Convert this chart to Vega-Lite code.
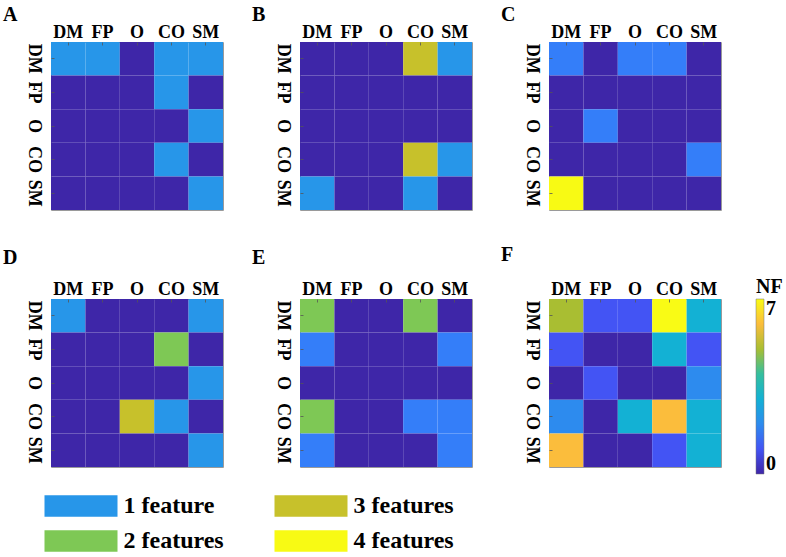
{
  "$schema": "https://vega.github.io/schema/vega-lite/v6.json",
  "background": "white",
  "padding": {"left": 2, "top": 4, "right": 0, "bottom": 0},
  "config": {
    "view": {"stroke": "#9a9a9a", "strokeWidth": 1},
    "font": "Liberation Serif",
    "axis": {"labelFont": "Liberation Serif", "labelFontSize": 18, "labelFontWeight": "bold", "labelColor": "black", "domain": false, "ticks": true, "tickSize": -3, "tickColor": "#555", "tickWidth": 0.8, "grid": false, "title": null, "labelOverlap": false, "bandPosition": 0.5},
    "title": {"font": "Liberation Serif", "fontSize": 20, "fontWeight": "bold", "color": "black", "anchor": "start", "frame": "group", "dx": -48}
  },
  "datasets": {
    "m": [
      {"panel":"A","row":"DM","col":"DM","nf":1},{"panel":"A","row":"DM","col":"FP","nf":1},{"panel":"A","row":"DM","col":"O","nf":0},{"panel":"A","row":"DM","col":"CO","nf":1},{"panel":"A","row":"DM","col":"SM","nf":1},
      {"panel":"A","row":"FP","col":"DM","nf":0},{"panel":"A","row":"FP","col":"FP","nf":0},{"panel":"A","row":"FP","col":"O","nf":0},{"panel":"A","row":"FP","col":"CO","nf":1},{"panel":"A","row":"FP","col":"SM","nf":0},
      {"panel":"A","row":"O","col":"DM","nf":0},{"panel":"A","row":"O","col":"FP","nf":0},{"panel":"A","row":"O","col":"O","nf":0},{"panel":"A","row":"O","col":"CO","nf":0},{"panel":"A","row":"O","col":"SM","nf":1},
      {"panel":"A","row":"CO","col":"DM","nf":0},{"panel":"A","row":"CO","col":"FP","nf":0},{"panel":"A","row":"CO","col":"O","nf":0},{"panel":"A","row":"CO","col":"CO","nf":1},{"panel":"A","row":"CO","col":"SM","nf":0},
      {"panel":"A","row":"SM","col":"DM","nf":0},{"panel":"A","row":"SM","col":"FP","nf":0},{"panel":"A","row":"SM","col":"O","nf":0},{"panel":"A","row":"SM","col":"CO","nf":0},{"panel":"A","row":"SM","col":"SM","nf":1},

      {"panel":"B","row":"DM","col":"DM","nf":0},{"panel":"B","row":"DM","col":"FP","nf":0},{"panel":"B","row":"DM","col":"O","nf":0},{"panel":"B","row":"DM","col":"CO","nf":3},{"panel":"B","row":"DM","col":"SM","nf":1},
      {"panel":"B","row":"FP","col":"DM","nf":0},{"panel":"B","row":"FP","col":"FP","nf":0},{"panel":"B","row":"FP","col":"O","nf":0},{"panel":"B","row":"FP","col":"CO","nf":0},{"panel":"B","row":"FP","col":"SM","nf":0},
      {"panel":"B","row":"O","col":"DM","nf":0},{"panel":"B","row":"O","col":"FP","nf":0},{"panel":"B","row":"O","col":"O","nf":0},{"panel":"B","row":"O","col":"CO","nf":0},{"panel":"B","row":"O","col":"SM","nf":0},
      {"panel":"B","row":"CO","col":"DM","nf":0},{"panel":"B","row":"CO","col":"FP","nf":0},{"panel":"B","row":"CO","col":"O","nf":0},{"panel":"B","row":"CO","col":"CO","nf":3},{"panel":"B","row":"CO","col":"SM","nf":1},
      {"panel":"B","row":"SM","col":"DM","nf":1},{"panel":"B","row":"SM","col":"FP","nf":0},{"panel":"B","row":"SM","col":"O","nf":0},{"panel":"B","row":"SM","col":"CO","nf":1},{"panel":"B","row":"SM","col":"SM","nf":0},

      {"panel":"C","row":"DM","col":"DM","nf":1},{"panel":"C","row":"DM","col":"FP","nf":0},{"panel":"C","row":"DM","col":"O","nf":1},{"panel":"C","row":"DM","col":"CO","nf":1},{"panel":"C","row":"DM","col":"SM","nf":0},
      {"panel":"C","row":"FP","col":"DM","nf":0},{"panel":"C","row":"FP","col":"FP","nf":0},{"panel":"C","row":"FP","col":"O","nf":0},{"panel":"C","row":"FP","col":"CO","nf":0},{"panel":"C","row":"FP","col":"SM","nf":0},
      {"panel":"C","row":"O","col":"DM","nf":0},{"panel":"C","row":"O","col":"FP","nf":1},{"panel":"C","row":"O","col":"O","nf":0},{"panel":"C","row":"O","col":"CO","nf":0},{"panel":"C","row":"O","col":"SM","nf":0},
      {"panel":"C","row":"CO","col":"DM","nf":0},{"panel":"C","row":"CO","col":"FP","nf":0},{"panel":"C","row":"CO","col":"O","nf":0},{"panel":"C","row":"CO","col":"CO","nf":0},{"panel":"C","row":"CO","col":"SM","nf":1},
      {"panel":"C","row":"SM","col":"DM","nf":4},{"panel":"C","row":"SM","col":"FP","nf":0},{"panel":"C","row":"SM","col":"O","nf":0},{"panel":"C","row":"SM","col":"CO","nf":0},{"panel":"C","row":"SM","col":"SM","nf":0},

      {"panel":"D","row":"DM","col":"DM","nf":1},{"panel":"D","row":"DM","col":"FP","nf":0},{"panel":"D","row":"DM","col":"O","nf":0},{"panel":"D","row":"DM","col":"CO","nf":0},{"panel":"D","row":"DM","col":"SM","nf":1},
      {"panel":"D","row":"FP","col":"DM","nf":0},{"panel":"D","row":"FP","col":"FP","nf":0},{"panel":"D","row":"FP","col":"O","nf":0},{"panel":"D","row":"FP","col":"CO","nf":2},{"panel":"D","row":"FP","col":"SM","nf":0},
      {"panel":"D","row":"O","col":"DM","nf":0},{"panel":"D","row":"O","col":"FP","nf":0},{"panel":"D","row":"O","col":"O","nf":0},{"panel":"D","row":"O","col":"CO","nf":0},{"panel":"D","row":"O","col":"SM","nf":1},
      {"panel":"D","row":"CO","col":"DM","nf":0},{"panel":"D","row":"CO","col":"FP","nf":0},{"panel":"D","row":"CO","col":"O","nf":3},{"panel":"D","row":"CO","col":"CO","nf":1},{"panel":"D","row":"CO","col":"SM","nf":0},
      {"panel":"D","row":"SM","col":"DM","nf":0},{"panel":"D","row":"SM","col":"FP","nf":0},{"panel":"D","row":"SM","col":"O","nf":0},{"panel":"D","row":"SM","col":"CO","nf":0},{"panel":"D","row":"SM","col":"SM","nf":1},

      {"panel":"E","row":"DM","col":"DM","nf":2},{"panel":"E","row":"DM","col":"FP","nf":0},{"panel":"E","row":"DM","col":"O","nf":0},{"panel":"E","row":"DM","col":"CO","nf":2},{"panel":"E","row":"DM","col":"SM","nf":0},
      {"panel":"E","row":"FP","col":"DM","nf":1},{"panel":"E","row":"FP","col":"FP","nf":0},{"panel":"E","row":"FP","col":"O","nf":0},{"panel":"E","row":"FP","col":"CO","nf":0},{"panel":"E","row":"FP","col":"SM","nf":1},
      {"panel":"E","row":"O","col":"DM","nf":0},{"panel":"E","row":"O","col":"FP","nf":0},{"panel":"E","row":"O","col":"O","nf":0},{"panel":"E","row":"O","col":"CO","nf":0},{"panel":"E","row":"O","col":"SM","nf":0},
      {"panel":"E","row":"CO","col":"DM","nf":2},{"panel":"E","row":"CO","col":"FP","nf":0},{"panel":"E","row":"CO","col":"O","nf":0},{"panel":"E","row":"CO","col":"CO","nf":1},{"panel":"E","row":"CO","col":"SM","nf":1},
      {"panel":"E","row":"SM","col":"DM","nf":1},{"panel":"E","row":"SM","col":"FP","nf":0},{"panel":"E","row":"SM","col":"O","nf":0},{"panel":"E","row":"SM","col":"CO","nf":0},{"panel":"E","row":"SM","col":"SM","nf":1},

      {"panel":"F","row":"DM","col":"DM","nf":5},{"panel":"F","row":"DM","col":"FP","nf":1},{"panel":"F","row":"DM","col":"O","nf":1},{"panel":"F","row":"DM","col":"CO","nf":7},{"panel":"F","row":"DM","col":"SM","nf":3},
      {"panel":"F","row":"FP","col":"DM","nf":1},{"panel":"F","row":"FP","col":"FP","nf":0},{"panel":"F","row":"FP","col":"O","nf":0},{"panel":"F","row":"FP","col":"CO","nf":3},{"panel":"F","row":"FP","col":"SM","nf":1},
      {"panel":"F","row":"O","col":"DM","nf":0},{"panel":"F","row":"O","col":"FP","nf":1},{"panel":"F","row":"O","col":"O","nf":0},{"panel":"F","row":"O","col":"CO","nf":0},{"panel":"F","row":"O","col":"SM","nf":2},
      {"panel":"F","row":"CO","col":"DM","nf":2},{"panel":"F","row":"CO","col":"FP","nf":0},{"panel":"F","row":"CO","col":"O","nf":3},{"panel":"F","row":"CO","col":"CO","nf":6},{"panel":"F","row":"CO","col":"SM","nf":3},
      {"panel":"F","row":"SM","col":"DM","nf":6},{"panel":"F","row":"SM","col":"FP","nf":0},{"panel":"F","row":"SM","col":"O","nf":0},{"panel":"F","row":"SM","col":"CO","nf":1},{"panel":"F","row":"SM","col":"SM","nf":3}
    ],
    "key": [
      {"label": "1 feature"}, {"label": "2 features"}, {"label": "3 features"}, {"label": "4 features"}
    ]
  },
  "bounds": "flush",
  "columns": 3,
  "spacing": {"row": 89, "column": 77},
  "resolve": {"scale": {"color": "independent"}},
  "concat": [
    {
      "title": {"text": "A", "offset": -2},
      "width": 172, "height": 168,
      "data": {"name": "m"},
      "transform": [{"filter": "datum.panel === 'A'"}],
      "mark": {"type": "rect"},
      "encoding": {
        "x": {"field": "col", "type": "ordinal", "sort": ["DM","FP","O","CO","SM"], "scale": {"paddingInner": 0, "paddingOuter": 0}, "axis": {"orient": "top", "labelAngle": 0, "labelPadding": 4}},
        "y": {"field": "row", "type": "ordinal", "sort": ["DM","FP","O","CO","SM"], "scale": {"paddingInner": 0, "paddingOuter": 0}, "axis": {"orient": "left", "labelAngle": 90, "labelAlign": "center", "labelBaseline": "top", "labelPadding": 12}},
        "color": {"field": "nf", "type": "ordinal", "scale": {"domain": [0,1,2,3,4], "range": ["#3e26a8","#2796e9","#7ec855","#c7c12b","#f8fa14"]}, "legend": null}
      }
    },
    {
      "title": {"text": "B", "offset": -2},
      "width": 172, "height": 168,
      "data": {"name": "m"},
      "transform": [{"filter": "datum.panel === 'B'"}],
      "mark": {"type": "rect"},
      "encoding": {
        "x": {"field": "col", "type": "ordinal", "sort": ["DM","FP","O","CO","SM"], "scale": {"paddingInner": 0, "paddingOuter": 0}, "axis": {"orient": "top", "labelAngle": 0, "labelPadding": 4}},
        "y": {"field": "row", "type": "ordinal", "sort": ["DM","FP","O","CO","SM"], "scale": {"paddingInner": 0, "paddingOuter": 0}, "axis": {"orient": "left", "labelAngle": 90, "labelAlign": "center", "labelBaseline": "top", "labelPadding": 12}},
        "color": {"field": "nf", "type": "ordinal", "scale": {"domain": [0,1,2,3,4], "range": ["#3e26a8","#2796e9","#7ec855","#c7c12b","#f8fa14"]}, "legend": null}
      }
    },
    {
      "title": {"text": "C", "offset": -2},
      "width": 172, "height": 168,
      "data": {"name": "m"},
      "transform": [{"filter": "datum.panel === 'C'"}],
      "mark": {"type": "rect"},
      "encoding": {
        "x": {"field": "col", "type": "ordinal", "sort": ["DM","FP","O","CO","SM"], "scale": {"paddingInner": 0, "paddingOuter": 0}, "axis": {"orient": "top", "labelAngle": 0, "labelPadding": 4}},
        "y": {"field": "row", "type": "ordinal", "sort": ["DM","FP","O","CO","SM"], "scale": {"paddingInner": 0, "paddingOuter": 0}, "axis": {"orient": "left", "labelAngle": 90, "labelAlign": "center", "labelBaseline": "top", "labelPadding": 12}},
        "color": {"field": "nf", "type": "ordinal", "scale": {"domain": [0,1,2,3,4], "range": ["#3e26a8","#347ef9","#7ec855","#c7c12b","#f8fa14"]}, "legend": null}
      }
    },
    {
      "title": {"text": "D", "offset": 12},
      "width": 172, "height": 168,
      "data": {"name": "m"},
      "transform": [{"filter": "datum.panel === 'D'"}],
      "mark": {"type": "rect"},
      "encoding": {
        "x": {"field": "col", "type": "ordinal", "sort": ["DM","FP","O","CO","SM"], "scale": {"paddingInner": 0, "paddingOuter": 0}, "axis": {"orient": "top", "labelAngle": 0, "labelPadding": 4}},
        "y": {"field": "row", "type": "ordinal", "sort": ["DM","FP","O","CO","SM"], "scale": {"paddingInner": 0, "paddingOuter": 0}, "axis": {"orient": "left", "labelAngle": 90, "labelAlign": "center", "labelBaseline": "top", "labelPadding": 12}},
        "color": {"field": "nf", "type": "ordinal", "scale": {"domain": [0,1,2,3,4], "range": ["#3e26a8","#2796e9","#7ec855","#c7c12b","#f8fa14"]}, "legend": null}
      }
    },
    {
      "title": {"text": "E", "offset": 12},
      "width": 172, "height": 168,
      "data": {"name": "m"},
      "transform": [{"filter": "datum.panel === 'E'"}],
      "mark": {"type": "rect"},
      "encoding": {
        "x": {"field": "col", "type": "ordinal", "sort": ["DM","FP","O","CO","SM"], "scale": {"paddingInner": 0, "paddingOuter": 0}, "axis": {"orient": "top", "labelAngle": 0, "labelPadding": 4}},
        "y": {"field": "row", "type": "ordinal", "sort": ["DM","FP","O","CO","SM"], "scale": {"paddingInner": 0, "paddingOuter": 0}, "axis": {"orient": "left", "labelAngle": 90, "labelAlign": "center", "labelBaseline": "top", "labelPadding": 12}},
        "color": {"field": "nf", "type": "ordinal", "scale": {"domain": [0,1,2,3,4], "range": ["#3e26a8","#347ef9","#7ec855","#c7c12b","#f8fa14"]}, "legend": null}
      }
    },
    {
      "title": {"text": "F", "offset": 12},
      "width": 172, "height": 168,
      "data": {"name": "m"},
      "transform": [{"filter": "datum.panel === 'F'"}],
      "mark": {"type": "rect"},
      "encoding": {
        "x": {"field": "col", "type": "ordinal", "sort": ["DM","FP","O","CO","SM"], "scale": {"paddingInner": 0, "paddingOuter": 0}, "axis": {"orient": "top", "labelAngle": 0, "labelPadding": 4}},
        "y": {"field": "row", "type": "ordinal", "sort": ["DM","FP","O","CO","SM"], "scale": {"paddingInner": 0, "paddingOuter": 0}, "axis": {"orient": "left", "labelAngle": 90, "labelAlign": "center", "labelBaseline": "top", "labelPadding": 12}},
        "color": {
          "field": "nf", "type": "quantitative",
          "scale": {"type": "linear", "domain": [0,1,2,3,4,5,6,7], "range": ["#3e26a8","#4354f4","#2d8bee","#13b1d4","#35bf9e","#a9be32","#fbbd3c","#f9fb15"], "interpolate": "rgb"},
          "legend": {"orient": "none", "legendX": 207, "legendY": -22, "padding": 0, "direction": "vertical", "title": "NF", "titleFont": "Liberation Serif", "titleFontSize": 20, "titleFontWeight": "bold", "titleColor": "black", "titlePadding": 2, "titleAnchor": "start", "gradientLength": 175, "gradientThickness": 8, "gradientStrokeColor": "#777", "gradientStrokeWidth": 0.5, "values": [0, 7], "labelFont": "Liberation Serif", "labelFontSize": 20, "labelFontWeight": "bold", "labelColor": "black", "labelOffset": 2}
        }
      }
    },
    {
      "width": 1, "height": 1,
      "view": {"stroke": null},
      "data": {"name": "key"},
      "mark": {"type": "square", "opacity": 0},
      "encoding": {
        "color": {
          "field": "label", "type": "nominal",
          "scale": {"domain": ["1 feature","2 features","3 features","4 features"], "range": ["#2796e9","#7ec855","#c7c12b","#f8fa14"]},
          "legend": {"orient": "none", "legendX": 18, "legendY": -62, "padding": 0, "title": null, "columns": 2, "columnPadding": 50, "rowPadding": 11, "symbolType": "M-7.3,-2.15H7.3V2.15H-7.3Z", "symbolSize": 100, "symbolOpacity": 1, "symbolStrokeWidth": 0, "labelFont": "Liberation Serif", "labelFontSize": 24, "labelFontWeight": "bold", "labelColor": "black", "labelOffset": 30.5, "labelLimit": 300}
        }
      }
    }
  ]
}
